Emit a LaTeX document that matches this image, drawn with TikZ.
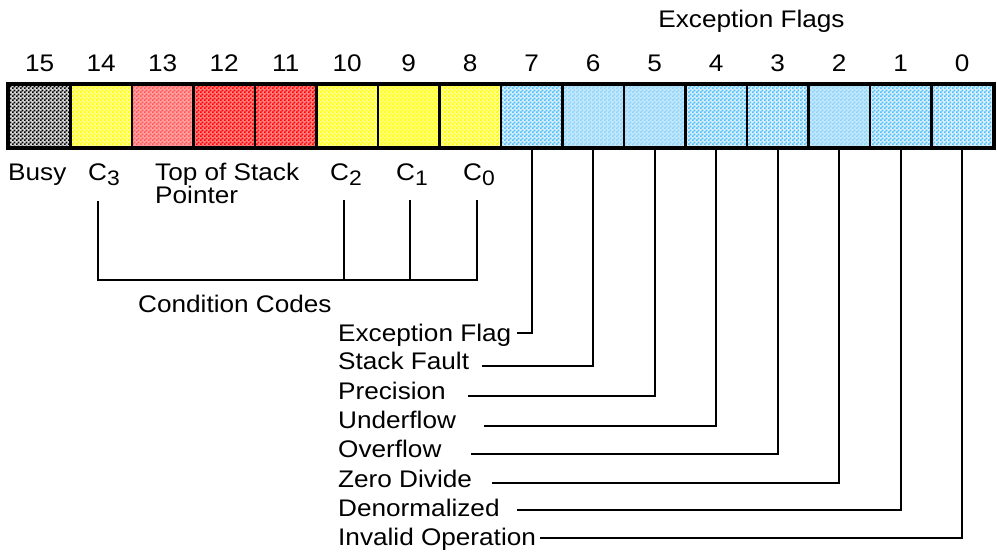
\documentclass[tikz,border=0pt]{standalone}
\usepackage{fontspec}
\setmainfont[FakeStretch=1.09]{Liberation Sans}
\usetikzlibrary{patterns}
\pgfdeclarepatternformonly{finechecker}{\pgfpointorigin}{\pgfqpoint{4pt}{4pt}}{\pgfqpoint{4pt}{4pt}}{%
  \pgfpathrectangle{\pgfpointorigin}{\pgfqpoint{2pt}{2pt}}%
  \pgfpathrectangle{\pgfqpoint{2pt}{2pt}}{\pgfqpoint{2pt}{2pt}}%
  \pgfusepath{fill}%
}
\definecolor{bw}{HTML}{D8D8D8}
\definecolor{bk}{HTML}{000000}
\definecolor{yb}{HTML}{FFFF90}
\definecolor{yp}{HTML}{FFFF00}
\definecolor{yb2}{HTML}{FFFF70}
\definecolor{yp2}{HTML}{FFFF20}
\definecolor{sb}{HTML}{FFA0A0}
\definecolor{sp}{HTML}{FF5A5A}
\definecolor{rb}{HTML}{FF8080}
\definecolor{rp}{HTML}{FF0000}
\definecolor{cb}{HTML}{D8F0FF}
\definecolor{cp}{HTML}{4FBDF5}
\definecolor{lb}{HTML}{C4E8FB}
\definecolor{lp}{HTML}{8ED4F8}
\begin{document}
\begin{tikzpicture}[x=1pt,y=-1pt,
  lab/.style={font=\fontsize{24}{22}\selectfont, inner sep=0pt},
  cell/.style={draw=black, line width=2.4pt, minimum width=61.5pt, minimum height=62pt, inner sep=0pt},
  ln/.style={line width=1.9pt},
]
\useasboundingbox (0,0) rectangle (997,553);
\newcommand{\subdig}[1]{\raisebox{-5pt}{\fontsize{21}{21}\selectfont #1}}
% register cells
\foreach \b/\bc/\pc in {15/bw/bk, 14/yb/yp, 13/sb/sp, 12/rb/rp, 11/rb/rp, 10/yb/yp, 9/yb2/yp2, 8/yb/yp,
  7/cb/cp, 6/lb/lp, 5/lb/lp, 4/cb/cp, 3/cb/cp, 2/lb/lp, 1/cb/cp, 0/cb/cp}
  \node[cell, preaction={fill=\bc}, pattern=finechecker, pattern color=\pc] (b\b) at ({9+61.5*(15-\b)+30.75},116) {};
\draw[line width=3.2pt] (b15.north west) rectangle (b0.south east);
% bit numbers
\foreach \b in {0,...,15}
  \node[lab, anchor=base] (n\b) at ({9+61.5*(15-\b)+30.75},72) {\b};
\node[lab, anchor=base] (ef) at (751.5,28) {Exception Flags};
% labels below the register
\node[lab, anchor=base west] (busy) at (8,181) {Busy};
\node[lab, anchor=base west] (c3) at (88,181) {C\subdig{3}};
\node[lab, anchor=base west] (tos) at (155,181) {Top of Stack};
\node[lab, anchor=base west] (ptr) at (155,204) {Pointer};
\node[lab, anchor=base west] (c2) at (330,181) {C\subdig{2}};
\node[lab, anchor=base west] (c1) at (396,181) {C\subdig{1}};
\node[lab, anchor=base west] (c0) at (463,181) {C\subdig{0}};
\node[lab, anchor=base west] (cc) at (138,313) {Condition Codes};
% condition code bracket
\coordinate (k3) at (98,201);
\coordinate (k2) at (344,200);
\coordinate (k1) at (410,200);
\coordinate (k0) at (477,200);
\coordinate (h3) at (98,280);
\coordinate (h0) at (477,280);
\draw[ln] (k3) -- (h3) -- (h0) -- (k0);
\draw[ln] (k2) -- (k2 |- h3);
\draw[ln] (k1) -- (k1 |- h3);
% exception flag labels
\foreach \i/\t/\yb/\yl/\xl in {7/Exception Flag/342/333/517, 6/Stack Fault/370/366/482, 5/Precision/400/396/468,
  4/Underflow/429/426/484, 3/Overflow/457/454/471, 2/Zero Divide/487/483/492,
  1/Denormalized/516/510/517, 0/Invalid Operation/545/538/540}
{
  \node[lab, anchor=base west] (t\i) at (338,\yb) {\t};
  \coordinate (e\i) at (\xl,\yl);
  \draw[ln] (b\i.south) |- (e\i);
}
\end{tikzpicture}
\end{document}
